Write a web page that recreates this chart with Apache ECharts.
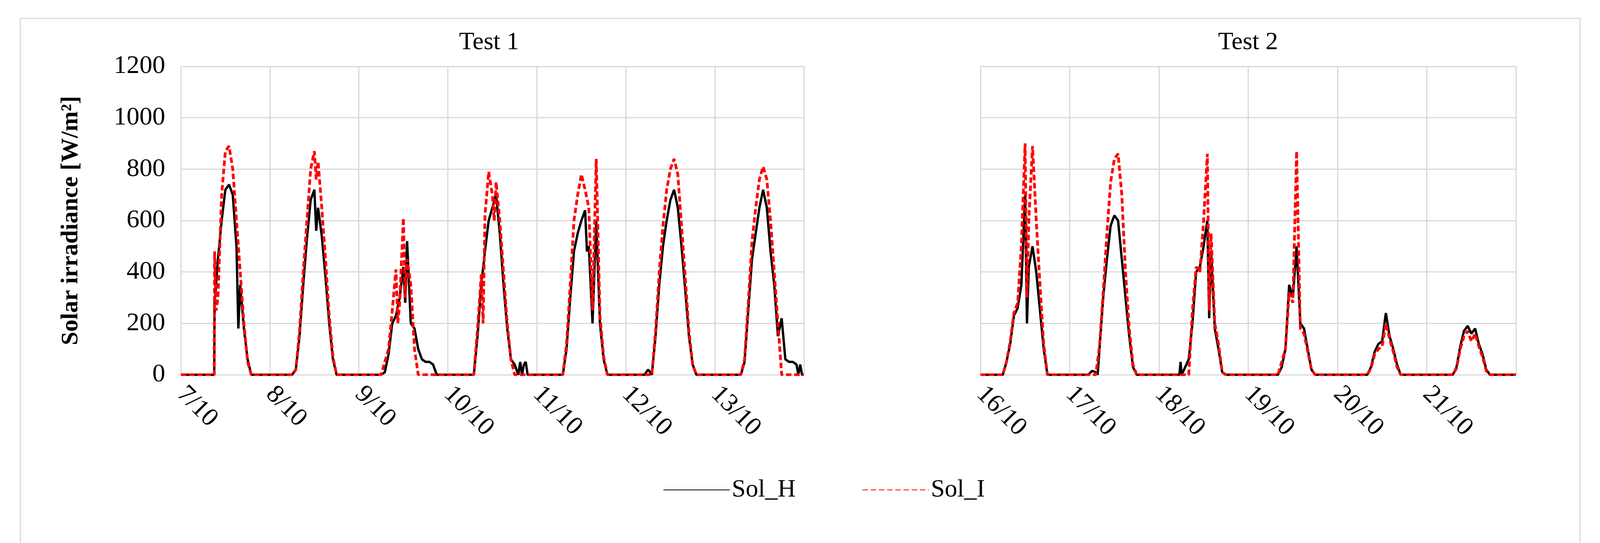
<!DOCTYPE html>
<html>
<head>
<meta charset="utf-8">
<script src="https://cdn.jsdelivr.net/npm/echarts@6/dist/echarts.min.js"></script>
<style>html,body{margin:0;background:#fff}#chart{width:4219px;height:1391px}</style>
</head>
<body>
<div id="chart"></div>
<script>
// 日期标签
var test1Days = ['7/10','8/10','9/10','10/10','11/10','12/10','13/10'];
var test2Days = ['16/10','17/10','18/10','19/10','20/10','21/10'];

// 每天 [小时, 值]
var solH_1 = [
	[[9,0],[9.1,280],[10,450],[11,600],[12,720],[13,740],[14,700],[15,500],[15.5,180],[16,350],[17,180],[18,60],[19,0]],
	[[6,0],[7,20],[8,150],[9,350],[10,530],[11,680],[12,720],[12.5,560],[13,650],[14,540],[15,380],[16,200],[17,60],[18,0]],
	[[6,0],[7,10],[8,80],[9,200],[10,230],[11,300],[12,420],[12.5,280],[13,520],[14,200],[15,180],[16,100],[17,60],[18,50],[19,50],[20,40],[21,0]],
	[[7,0],[8,150],[9,350],[10,480],[11,600],[12,650],[13,700],[14,550],[15,350],[16,180],[17,60],[18,40],[19,0],[19.5,50],[20,0],[20.5,40],[21,50],[21.5,0]],
	[[7,0],[8,100],[9,300],[10,480],[11,550],[12,600],[13,640],[13.5,480],[14,500],[15,200],[16,600],[17,200],[18,60],[19,0]],
	[[5,0],[6,20],[7,0],[8,150],[9,350],[10,500],[11,600],[12,680],[13,720],[14,650],[15,500],[16,330],[17,150],[18,40],[19,0]],
	[[7,0],[8,50],[9,250],[10,450],[11,550],[12,650],[13,720],[14,650],[15,480],[16,350],[17,150],[18,220],[19,60],[20,50],[21,50],[22,40],[22.5,0],[23,40],[23.5,0]]
];
var solI_1 = [
	[[9,0],[9.1,480],[9.5,250],[10,300],[11,700],[12,870],[13,890],[14,800],[15,600],[16,400],[17,200],[18,50],[19,0]],
	[[6,0],[7,20],[8,170],[9,400],[10,600],[11,800],[12,870],[12.5,760],[13,830],[14,650],[15,450],[16,230],[17,70],[18,0]],
	[[6,0],[8,100],[9,250],[10,410],[10.5,200],[11,280],[12,610],[12.5,300],[13,450],[14,350],[15,100],[16,0]],
	[[7,0],[8,180],[9,390],[9.5,200],[10,620],[11,790],[12,700],[12.5,600],[13,750],[14,600],[15,400],[16,200],[17,60],[18,0]],
	[[7,0],[8,120],[9,350],[10,600],[11,700],[12,780],[13,720],[14,650],[15,250],[16,840],[17,230],[18,70],[19,0]],
	[[7,0],[8,170],[9,400],[10,580],[11,720],[12,800],[13,840],[14,780],[15,580],[16,380],[17,170],[18,40],[19,0]],
	[[7,0],[8,60],[9,280],[10,520],[11,650],[12,760],[13,810],[14,760],[15,600],[16,400],[17,200],[18,0]]
];
var solH_2 = [
	[[6,0],[7,50],[8,120],[9,230],[10,260],[11,350],[12,700],[12.5,200],[13,420],[14,500],[15,400],[16,250],[17,100],[18,0]],
	[[5,0],[6,15],[7,10],[7.5,0],[8,100],[9,300],[10,450],[11,580],[12,620],[13,600],[14,450],[15,300],[16,150],[17,30],[18,0]],
	[[5.5,0],[5.8,50],[6.1,0],[8,60],[9,200],[10,400],[11,420],[12,500],[13,600],[13.5,220],[14,480],[15,180],[16,100],[17,10],[18,0]],
	[[8,0],[9,30],[10,100],[11,350],[12,300],[13,500],[14,200],[15,180],[16,100],[17,20],[18,0]],
	[[8,0],[9,30],[10,90],[11,120],[12,130],[13,240],[14,150],[15,100],[16,40],[17,0]],
	[[7,0],[8,30],[9,110],[10,170],[11,190],[12,160],[13,180],[14,120],[15,80],[16,20],[17,0]]
];
var solI_2 = [
	[[6,0],[7,50],[8,130],[9,240],[10,280],[11,500],[12,900],[12.5,300],[13,600],[14,890],[15,600],[16,350],[17,120],[18,0]],
	[[7,0],[8,110],[9,320],[10,550],[11,750],[12,840],[13,860],[14,700],[15,400],[16,180],[17,40],[18,0]],
	[[8,0],[9,250],[10,420],[11,400],[12,600],[13,860],[13.5,250],[14,550],[15,200],[16,120],[17,10],[18,0]],
	[[8,0],[10,100],[11,320],[12,280],[13,870],[14,180],[15,160],[16,90],[17,20],[18,0]],
	[[8,0],[9,25],[10,80],[11,100],[12,110],[13,200],[14,140],[15,90],[16,30],[17,0]],
	[[7,0],[8,25],[9,100],[10,150],[11,170],[12,130],[13,160],[14,110],[15,70],[16,15],[17,0]]
];

function build(days){
	var out = [[0,0]];
	days.forEach(function(d, i){
		d.forEach(function(p){ out.push([i*24 + p[0], p[1]]); });
	});
	out.push([days.length*24, 0]);
	return out;
}

var font = 'Liberation Serif';
var chart = echarts.init(document.getElementById('chart'));

function xAxis(idx, labels){
	return {
		type:'value', gridIndex:idx, min:0, max:labels.length*24, interval:24,
		axisLine:{show:false}, axisTick:{show:false},
		splitLine:{show:true, lineStyle:{color:'#d9d9d9', width:3}},
		axisLabel:{
			fontFamily:font, fontSize:66, color:'#000', rotate:-45, margin:40,
			showMaxLabel:false,
			formatter:function(v){ return labels[Math.round(v/24)] || ''; }
		}
	};
}
function yAxis(idx, show){
	return {
		type:'value', gridIndex:idx, min:0, max:1200, interval:200,
		axisLine:{show:false}, axisTick:{show:false},
		splitLine:{lineStyle:{color:'#d9d9d9', width:3}},
		axisLabel:{show:show, fontFamily:font, fontSize:66, color:'#000', margin:40, formatter:function(v){ return String(v); }},
		name: show ? 'Solar irradiance [W/m²]' : '',
		nameLocation:'middle', nameGap:250, nameRotate:90,
		nameTextStyle:{fontFamily:font, fontSize:62, fontWeight:'bold', color:'#000'}
	};
}

chart.setOption({
	animation:false,
	graphic:[{type:'rect', shape:{x:52, y:47, width:3993, height:1400}, style:{fill:'none', stroke:'#d9d9d9', lineWidth:3}}],
	title:[
		{text:'Test 1', left:1247, top:72, textAlign:'center', textStyle:{fontFamily:font, fontSize:64, fontWeight:'normal', color:'#000'}},
		{text:'Test 2', left:3190, top:72, textAlign:'center', textStyle:{fontFamily:font, fontSize:64, fontWeight:'normal', color:'#000'}}
	],
	legend:{
		top:1218, left:'center', itemGap:170, itemWidth:170, itemHeight:24,
		itemStyle:{color:'transparent', borderWidth:0},
		textStyle:{fontFamily:font, fontSize:64, color:'#000'},
		data:['Sol_H','Sol_I']
	},
	grid:[
		{left:463, top:170, width:1595, height:790},
		{left:2510, top:170, width:1371, height:790}
	],
	xAxis:[xAxis(0, test1Days), xAxis(1, test2Days)],
	yAxis:[yAxis(0, true), yAxis(1, false)],
	series:[
		{name:'Sol_H', type:'line', xAxisIndex:0, yAxisIndex:0, symbol:'none', data:build(solH_1), lineStyle:{color:'#000', width:6}, itemStyle:{color:'#000'}},
		{name:'Sol_I', type:'line', xAxisIndex:0, yAxisIndex:0, symbol:'none', data:build(solI_1), lineStyle:{color:'#ff0000', width:7, type:[14,7]}, itemStyle:{color:'#ff0000'}},
		{name:'Sol_H', type:'line', xAxisIndex:1, yAxisIndex:1, symbol:'none', data:build(solH_2), lineStyle:{color:'#000', width:6}, itemStyle:{color:'#000'}},
		{name:'Sol_I', type:'line', xAxisIndex:1, yAxisIndex:1, symbol:'none', data:build(solI_2), lineStyle:{color:'#ff0000', width:7, type:[14,7]}, itemStyle:{color:'#ff0000'}}
	]
});
</script>
</body>
</html>
